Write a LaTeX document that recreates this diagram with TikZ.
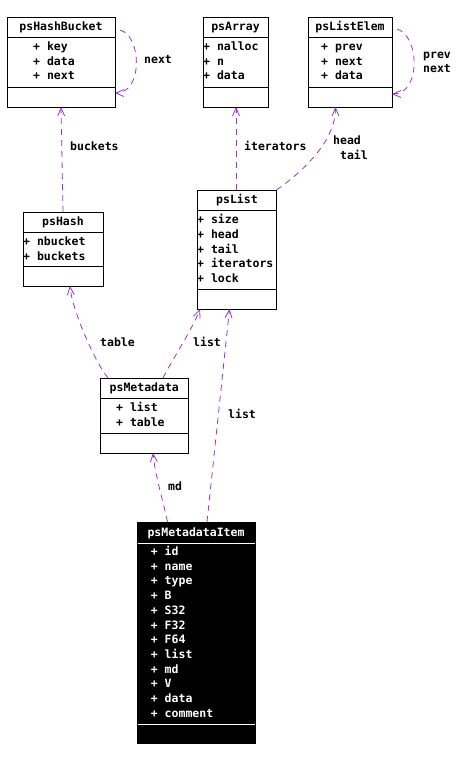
\documentclass[tikz,border=0pt]{standalone}
\usepackage{fontspec}
\newfontfamily\dmono{DejaVu Sans Mono}
\usetikzlibrary{arrows.meta,calc}
\definecolor{relc}{RGB}{154,50,205}
\begin{document}
\begin{tikzpicture}[x=1pt,y=-1pt,
 cls/.style={draw=black, line width=0.9pt, inner sep=0pt, outer sep=0pt, anchor=north west, fill=white},
 clsdark/.style={draw=black, fill=black, line width=0.9pt, inner sep=0pt, outer sep=0pt, anchor=north west},
 txt/.style={font=\dmono\bfseries\fontsize{11.5}{14.7}\selectfont, inner sep=0pt, text height=8pt, text depth=0.5pt},
 ttl/.style={txt, anchor=center},
 attr/.style={txt, anchor=west},
 lbl/.style={txt, anchor=west},
 wtxt/.style={text=white},
 sepline/.style={draw=black, line width=0.9pt},
 wsepline/.style={draw=white, line width=0.9pt},
 relline/.style={draw=relc, line width=0.8pt, dash pattern=on 6pt off 5pt, -{Straight Barb[length=8pt,width=7pt]}}
]
\useasboundingbox (0,0) rectangle (464,761);

% ---------- psHashBucket ----------
\node[cls, minimum width=108pt, minimum height=90pt] (hb) at (7,17) {};
\draw[sepline] ($(hb.north west)+(0,20)$) -- ($(hb.north east)+(0,20)$);
\draw[sepline] ($(hb.north west)+(0,70)$) -- ($(hb.north east)+(0,70)$);
\node[ttl] (hbT) at (61,27) {psHashBucket};
\node[attr] (hb1) at (33,46.7) {+ key};
\node[attr] (hb2) at (33,61.3) {+ data};
\node[attr] (hb3) at (33,75.7) {+ next};

% ---------- psArray ----------
\node[cls, minimum width=65pt, minimum height=90pt] (arr) at (203,17) {};
\draw[sepline] ($(arr.north west)+(0,20)$) -- ($(arr.north east)+(0,20)$);
\draw[sepline] ($(arr.north west)+(0,70)$) -- ($(arr.north east)+(0,70)$);
\node[ttl] (arrT) at (235.5,27) {psArray};
\node[attr] (arr1) at (203,46.7) {+ nalloc};
\node[attr] (arr2) at (203,61.3) {+ n};
\node[attr] (arr3) at (203,75.7) {+ data};

% ---------- psListElem ----------
\node[cls, minimum width=84pt, minimum height=90pt] (le) at (308,17) {};
\draw[sepline] ($(le.north west)+(0,20)$) -- ($(le.north east)+(0,20)$);
\draw[sepline] ($(le.north west)+(0,70)$) -- ($(le.north east)+(0,70)$);
\node[ttl] (leT) at (350,27) {psListElem};
\node[attr] (le1) at (321,46.7) {+ prev};
\node[attr] (le2) at (321,61.3) {+ next};
\node[attr] (le3) at (321,75.7) {+ data};

% ---------- psList ----------
\node[cls, minimum width=79.5pt, minimum height=119pt] (lst) at (197,190) {};
\draw[sepline] ($(lst.north west)+(0,20)$) -- ($(lst.north east)+(0,20)$);
\draw[sepline] ($(lst.north west)+(0,99)$) -- ($(lst.north east)+(0,99)$);
\node[ttl] (lstT) at (237,200) {psList};
\node[attr] (lst1) at (197,220) {+ size};
\node[attr] (lst2) at (197,234.7) {+ head};
\node[attr] (lst3) at (197,249.4) {+ tail};
\node[attr] (lst4) at (197,264.1) {+ iterators};
\node[attr] (lst5) at (197,278.8) {+ lock};

% ---------- psHash ----------
\node[cls, minimum width=80pt, minimum height=74pt] (hash) at (23,212) {};
\draw[sepline] ($(hash.north west)+(0,20.5)$) -- ($(hash.north east)+(0,20.5)$);
\draw[sepline] ($(hash.north west)+(0,54)$) -- ($(hash.north east)+(0,54)$);
\node[ttl] (hashT) at (63,222) {psHash};
\node[attr] (hash1) at (23,242) {+ nbucket};
\node[attr] (hash2) at (23,256.5) {+ buckets};

% ---------- psMetadata ----------
\node[cls, minimum width=88.5pt, minimum height=75pt] (md) at (100,378) {};
\draw[sepline] ($(md.north west)+(0,20.5)$) -- ($(md.north east)+(0,20.5)$);
\draw[sepline] ($(md.north west)+(0,55)$) -- ($(md.north east)+(0,55)$);
\node[ttl] (mdT) at (144.3,388) {psMetadata};
\node[attr] (md1) at (116,407.7) {+ list};
\node[attr] (md2) at (116,422.3) {+ table};

% ---------- psMetadataItem ----------
\node[clsdark, minimum width=118pt, minimum height=221pt] (item) at (137,522) {};
\draw[wsepline] ($(item.north west)+(0.5,21)$) -- ($(item.north east)+(-0.5,21)$);
\draw[wsepline] ($(item.north west)+(0.5,202)$) -- ($(item.north east)+(-0.5,202)$);
\node[ttl, wtxt] (itemT) at (196,532.7) {psMetadataItem};
\node[attr, wtxt] (it1) at (150.7,551.7) {+ id};
\node[attr, wtxt] (it2) at (150.7,566.4) {+ name};
\node[attr, wtxt] (it3) at (150.7,581.2) {+ type};
\node[attr, wtxt] (it4) at (150.7,595.9) {+ B};
\node[attr, wtxt] (it5) at (150.7,610.6) {+ S32};
\node[attr, wtxt] (it6) at (150.7,625.3) {+ F32};
\node[attr, wtxt] (it7) at (150.7,640.1) {+ F64};
\node[attr, wtxt] (it8) at (150.7,654.8) {+ list};
\node[attr, wtxt] (it9) at (150.7,669.5) {+ md};
\node[attr, wtxt] (it10) at (150.7,684.2) {+ V};
\node[attr, wtxt] (it11) at (150.7,699.0) {+ data};
\node[attr, wtxt] (it12) at (150.7,713.7) {+ comment};

% ---------- connectors ----------
% psHashBucket self loop (next)
\draw[relline] ($(hb.north east)+(5,13)$) .. controls (142,36) and (143,93) .. ($(hb.north east)+(0,76)$);
\node[lbl] (lNext) at (144,60) {next};

% psListElem self loop (prev next)
\draw[relline] ($(le.north east)+(5,12)$) .. controls (420,36) and (421,94) .. ($(le.north east)+(0,77)$);
\node[lbl, align=left] (lPrevNext) at (423,69) {prev\\next};

% buckets
\draw[relline] ($(hash.north west)+(40,0)$) -- ($(hb.south west)+(54,0)$);
\node[lbl] (lBuckets) at (70,147) {buckets};

% iterators
\draw[relline] ($(lst.north west)+(39,0)$) -- ($(arr.south west)+(33,0)$);
\node[lbl] (lIter) at (244,147) {iterators};

% head tail
\draw[relline] (lst.north east) .. controls (305,170) and (335.5,140) .. ($(le.south west)+(27.5,0)$);
\node[lbl, align=left] (lHeadTail) at (333,155.5) {head\\~tail};

% table
\draw[relline] ($(md.north west)+(8,0)$) .. controls (95,362) and (72,310) .. ($(hash.south west)+(47,0)$);
\node[lbl] (lTable) at (100,343) {table};

% list (psMetadata -> psList)
\draw[relline] ($(md.north west)+(63,0)$) .. controls (172,360) and (192,330) .. ($(lst.south west)+(3,0)$);
\node[lbl] (lList1) at (193,343) {list};

% list (psMetadataItem -> psList)
\draw[relline] ($(item.north west)+(70,0)$) -- ($(lst.south west)+(32.5,0)$);
\node[lbl] (lList2) at (228,415) {list};

% md
\draw[relline] ($(item.north west)+(30.5,0)$) .. controls (163,500) and (155,475) .. ($(md.south west)+(53,0)$);
\node[lbl] (lMd) at (168,487) {md};

\end{tikzpicture}
\end{document}
